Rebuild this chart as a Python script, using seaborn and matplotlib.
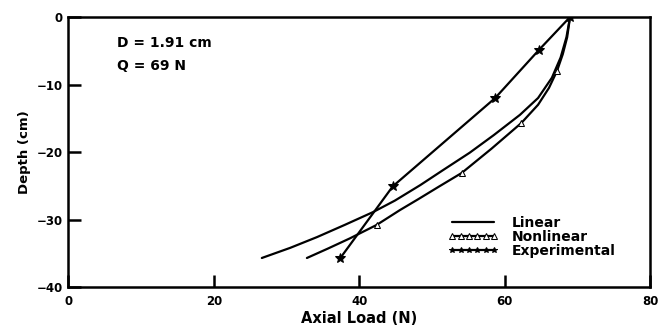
import matplotlib
matplotlib.use("Agg")
import matplotlib.pyplot as plt
import seaborn as sns
import pandas as pd

# Data
linear_load = [69.0, 68.5, 67.7, 66.5, 64.6, 62.1, 58.5, 55.2, 51.5, 48.4,
               44.9, 41.9, 38.0, 34.2, 30.5, 26.6]
linear_depth = [0.0, -3.0, -6.0, -9.0, -12.0, -14.5, -17.5, -20.1, -22.7, -24.9,
                -27.2, -28.9, -30.8, -32.6, -34.2, -35.7]

nonlin_load = [69.0, 68.6, 68.0, 67.2, 66.1, 64.6, 62.3, 58.2, 54.1, 51.0,
               48.1, 45.6, 42.4, 38.7, 35.7, 32.8]
nonlin_depth = [0.0, -3.0, -5.5, -8.0, -10.5, -13.0, -15.7, -19.5, -23.1, -25.1,
                -27.0, -28.6, -30.8, -32.8, -34.3, -35.7]
nonlin_marker_idx = [3, 6, 8, 12]

exp_load = [69.0, 64.7, 58.7, 44.6, 37.4]
exp_depth = [0.0, -4.9, -12.0, -25.1, -35.7]

x_ticks = [0, 20, 40, 60, 80]
y_ticks = [0, -10, -20, -30, -40]
annot_lines = ["D = 1.91 cm", "Q = 69 N"]

sns.set_style("ticks")
plt.rcParams['font.family'] = ['DejaVu Sans']
plt.rcParams['font.weight'] = 'bold'
plt.rcParams['text.color'] = 'black'
plt.rcParams['axes.labelcolor'] = 'black'
plt.rcParams['xtick.color'] = 'black'
plt.rcParams['ytick.color'] = 'black'
plt.rcParams['axes.edgecolor'] = 'black'

fig = plt.figure(figsize=(6.61, 3.27), dpi=100)
ax = fig.add_axes([0.1036, 0.1223, 0.8798, 0.8257])

df_lin = pd.DataFrame({"load": linear_load, "depth": linear_depth})
df_non = pd.DataFrame({"load": nonlin_load, "depth": nonlin_depth})
df_exp = pd.DataFrame({"load": exp_load, "depth": exp_depth})

sns.lineplot(data=df_lin, x="load", y="depth", ax=ax, sort=False,
             color="black", lw=1.6, label="Linear")
sns.lineplot(data=df_non, x="load", y="depth", ax=ax, sort=False,
             color="black", lw=1.6, label="Nonlinear")
ln = ax.lines[-1]
ln.set_marker("^")
ln.set_markevery(nonlin_marker_idx)
ln.set_markersize(5)
ln.set_markerfacecolor("white")
ln.set_markeredgecolor("black")
sns.lineplot(data=df_exp, x="load", y="depth", ax=ax, sort=False,
             color="black", lw=1.6, marker="*", markersize=7,
             markeredgecolor="black", label="Experimental")

ax.set_xlim(0, 80)
ax.set_ylim(-40, 0)
ax.set_xticks(x_ticks)
ax.set_yticks(y_ticks)
ax.set_xticklabels([str(t) for t in x_ticks])
ax.set_yticklabels([str(t).replace("-", "\u2212") for t in y_ticks])
ax.tick_params(direction="in", length=9, width=1.8, labelsize=8.5)
ax.tick_params(axis="x", pad=6)
ax.tick_params(axis="y", pad=4)
for s in ax.spines.values():
    s.set_linewidth(1.8)
    s.set_visible(True)
ax.set_xlabel("Axial Load (N)", fontsize=10.5, fontweight="bold", labelpad=2)
ax.set_ylabel("Depth (cm)", fontsize=9.5, fontweight="bold", labelpad=4)

ax.text(0.083, 0.904, annot_lines[0], transform=ax.transAxes, fontsize=10,
        fontweight="bold", va="center", ha="left")
ax.text(0.083, 0.819, annot_lines[1], transform=ax.transAxes, fontsize=10,
        fontweight="bold", va="center", ha="left")

leg = ax.legend(loc="center left", bbox_to_anchor=(0.653, 0.185), frameon=False,
                fontsize=10, numpoints=6, handlelength=3.6, handletextpad=1.0,
                labelspacing=0.0, borderaxespad=0, borderpad=0)
for h in leg.legend_handles:
    if h.get_marker() not in (None, "None", ""):
        h.set_markersize(4)
        h.set_markevery(None)

fig.savefig("out.png", dpi=100)
